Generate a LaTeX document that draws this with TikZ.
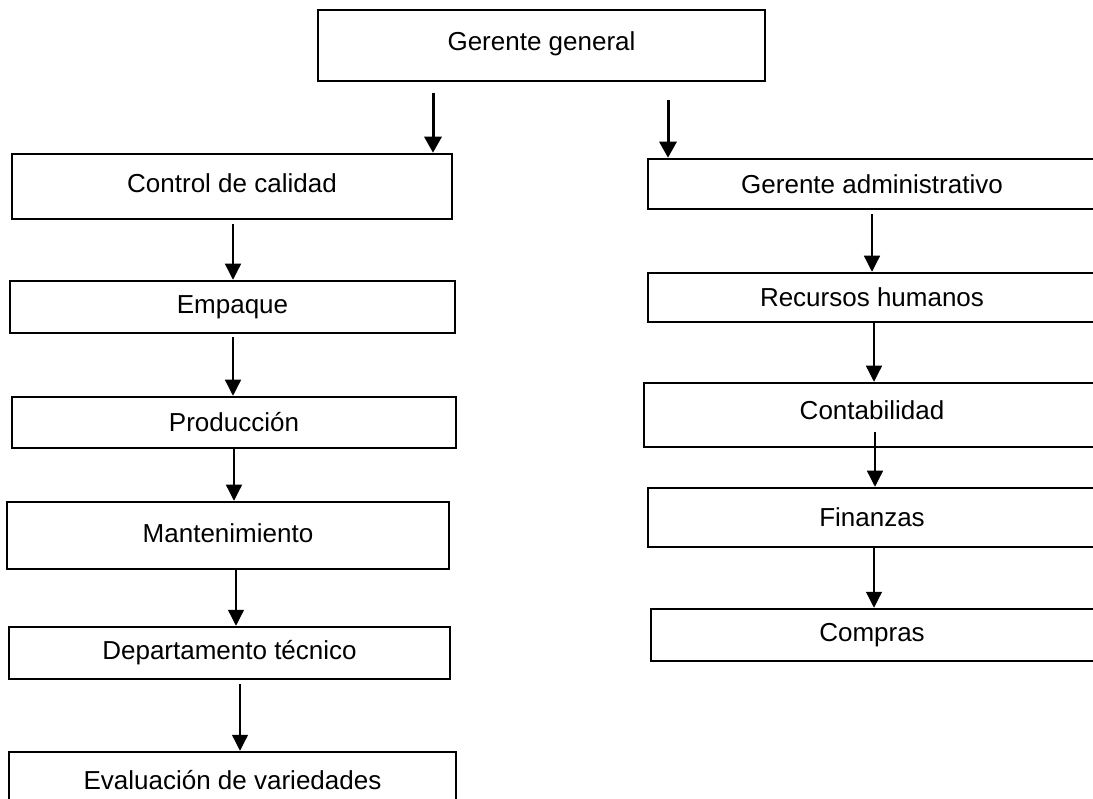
\documentclass[tikz,border=0pt]{standalone}
\usepackage{fontspec}
\setmainfont{Liberation Sans}
\usetikzlibrary{arrows.meta,calc}
\begin{document}
\begin{tikzpicture}[x=1pt,y=-1pt,
  box/.style={draw=black,line width=2.5pt,rectangle,inner sep=0pt,align=center,
    font=\fontsize{26}{30}\selectfont},
  arr/.style={line width=1.3pt,-{Triangle[width=16pt,length=16pt]}},
  bigarr/.style={line width=3pt,-{Triangle[width=17pt,length=16pt]}}]
\useasboundingbox (0,0) rectangle (1093,799);
\clip (0,0) rectangle (1093,799);
\fill[white] (0,0) rectangle (1093,799);
% top
\node[box,minimum width=447pt,minimum height=71pt] (gg) at (541.5,45.5) {\raisebox{8pt}{Gerente general}};
% left column
\node[box,minimum width=440pt,minimum height=65pt] (cc) at (232,186.5) {\raisebox{6pt}{Control de calidad}};
\node[box,minimum width=445pt,minimum height=52pt] (emp) at (232.5,307) {Empaque};
\node[box,minimum width=444pt,minimum height=51pt] (prod) at (234,422.5) {Producción};
\node[box,minimum width=442pt,minimum height=67pt] (mant) at (228,535.5) {\raisebox{4pt}{Mantenimiento}};
\node[box,minimum width=441pt,minimum height=52pt] (dep) at (229.5,653) {Departamento técnico};
\node[box,minimum width=447pt,minimum height=56pt] (eva) at (232.5,780) {Evaluación de variedades};
% right column (cut by the right edge of the page)
\node[box,minimum width=460pt,minimum height=50pt] (ga) at (878,184) {\hspace*{-12pt}Gerente administrativo};
\node[box,minimum width=460pt,minimum height=49pt] (rh) at (878,297.5) {\hspace*{-12pt}Recursos humanos};
\node[box,minimum width=464pt,minimum height=64pt] (cont) at (876,415) {\hspace*{-8pt}\raisebox{10pt}{Contabilidad}};
\node[box,minimum width=460pt,minimum height=59pt] (fin) at (878,517.5) {\hspace*{-12pt}Finanzas};
\node[box,minimum width=454pt,minimum height=52pt] (comp) at (878,635) {\hspace*{-12pt}Compras};
% free ends of the two top arrows
\coordinate (tl) at (433,93);
\coordinate (tr) at (668,100);
\draw[bigarr] (tl) -- (tl |- cc.north);
\draw[bigarr] (tr) -- (tr |- ga.north);
% left arrows
\draw[arr] ($(cc.south)+(1,4)$) -- ($(emp.north)+(0.5,0)$);
\draw[arr] ($(emp.south)+(0.5,3)$) -- ($(prod.north)+(-1,0)$);
\draw[arr] (prod.south) -- ($(mant.north)+(6,0)$);
\draw[arr] ($(mant.south)+(8,0)$) -- ($(dep.north)+(6.5,0)$);
\draw[arr] ($(dep.south)+(10.5,4)$) -- ($(eva.north)+(7.5,0)$);
% right arrows
\draw[arr] ($(ga.south)+(-6,4)$) -- ($(rh.north)+(-6,0)$);
\draw[arr] ($(rh.south)+(-4,0)$) -- ($(cont.north)+(-2,0)$);
\draw[arr] ($(cont.south)+(-1,-16)$) -- ($(fin.north)+(-3,0)$);
\draw[arr] ($(fin.south)+(-4,0)$) -- ($(comp.north)+(-4,0)$);
\end{tikzpicture}
\end{document}
